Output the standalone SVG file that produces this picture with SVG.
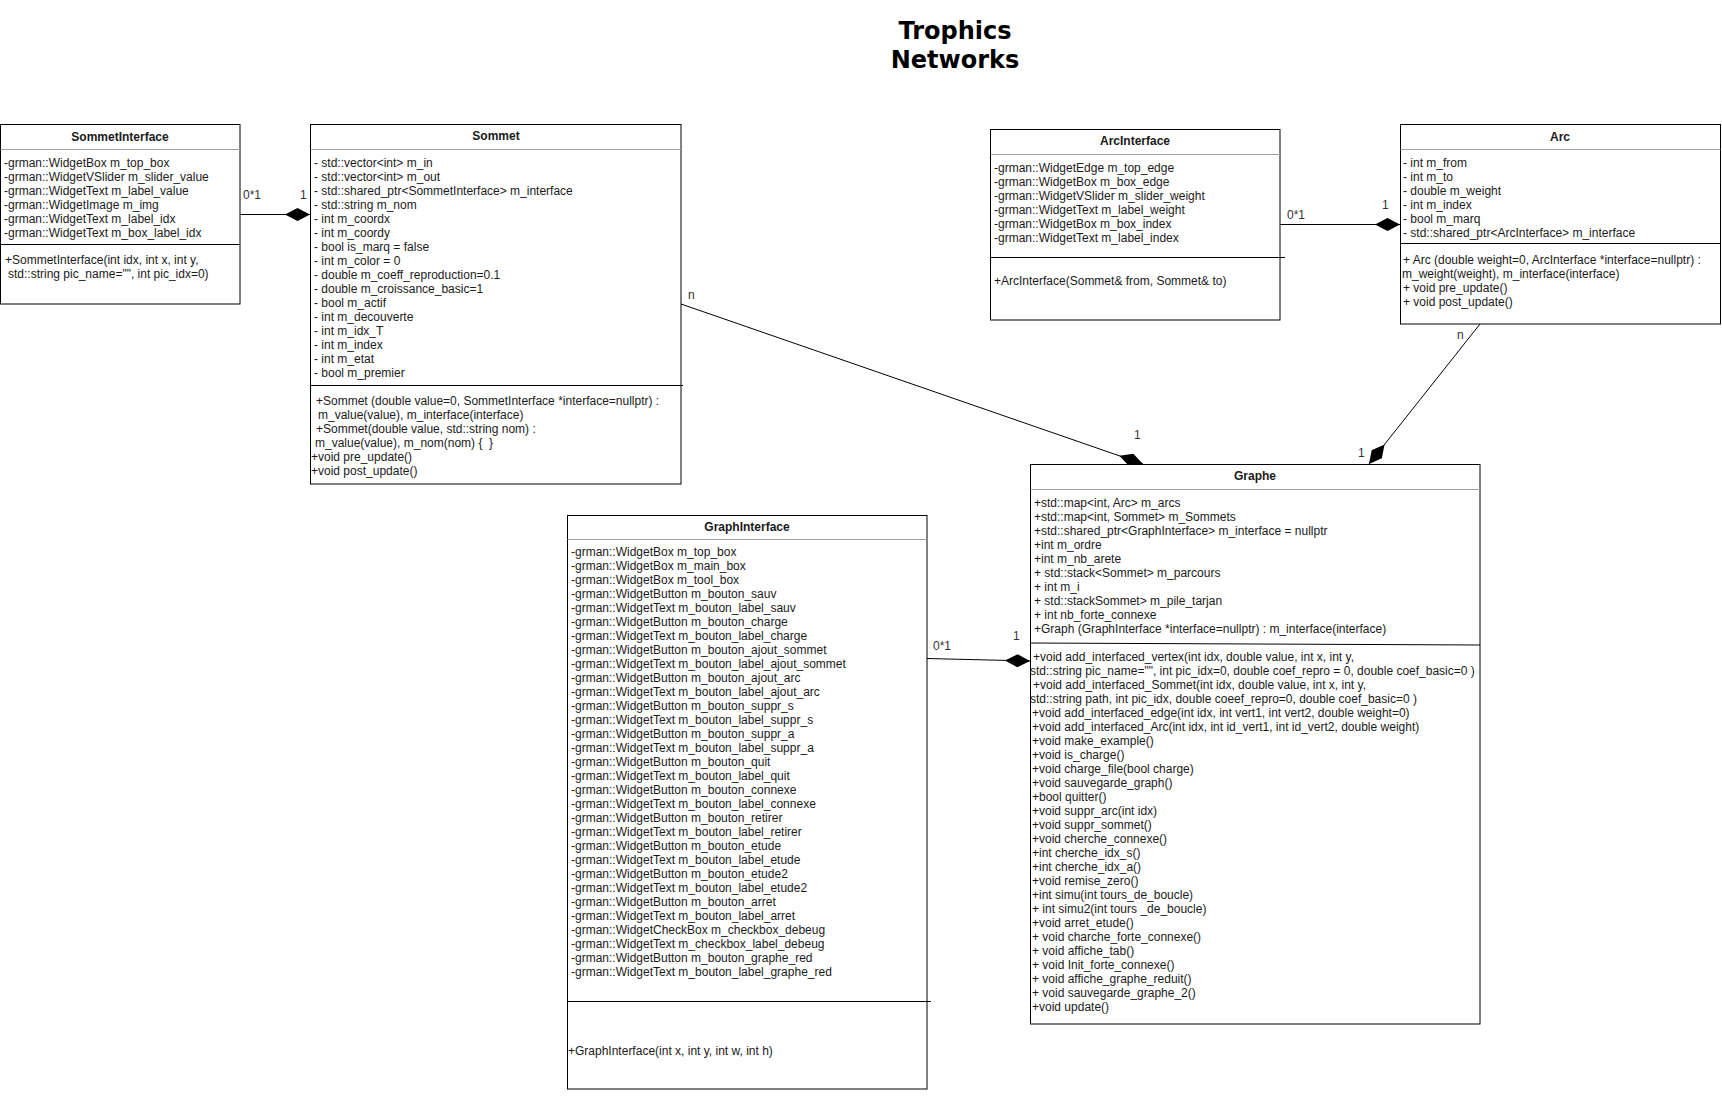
<svg xmlns="http://www.w3.org/2000/svg" width="1722" height="1098" viewBox="0 0 1722 1098">
  <style>
    .box { fill: #ffffff; stroke: #000000; stroke-width: 1; }
    .hdr { stroke: #a0a0a0; stroke-width: 1; }
    .sep { stroke: #000000; stroke-width: 1; }
    .edge { stroke: #000000; stroke-width: 1; fill: none; }
    text { font-family: "Liberation Sans", Arial, sans-serif; font-size: 12px; fill: #1a1a1a; }
    .title { text-anchor: middle; font-weight: bold; }
    .lbl { fill: #333333; }
    .main-title { font-family: "DejaVu Sans", Verdana, sans-serif; font-size: 24px; font-weight: bold; text-anchor: middle; fill: #000000; }
  </style>
  <defs>
    <marker id="diamond" viewBox="0 0 26 14" refX="25.5" refY="7" markerWidth="26" markerHeight="14" markerUnits="userSpaceOnUse" orient="auto">
      <path d="M0.5,7 L13,0.5 L25.5,7 L13,13.5 Z" fill="#000000"/>
    </marker>
  </defs>

  <rect width="1722" height="1098" fill="#ffffff"/>

  <g id="title">
    <text class="main-title" x="955" y="38.5">Trophics</text>
    <text class="main-title" x="955" y="68">Networks</text>
  </g>

  <!-- associations (composition diamonds on the owner side) -->
  <g id="connectors">
    <line class="edge" x1="240" y1="214.5" x2="310" y2="214.5" marker-end="url(#diamond)"/>
    <text class="lbl" x="243" y="199">0*1</text>
    <text class="lbl" x="300" y="199">1</text>

    <line class="edge" x1="1280" y1="224.5" x2="1400" y2="224.5" marker-end="url(#diamond)"/>
    <text class="lbl" x="1287" y="219">0*1</text>
    <text class="lbl" x="1382" y="209">1</text>

    <line class="edge" x1="681" y1="304" x2="1143" y2="464" marker-end="url(#diamond)"/>
    <text class="lbl" x="688" y="299">n</text>
    <text class="lbl" x="1134" y="439">1</text>

    <line class="edge" x1="1480" y1="324" x2="1369" y2="464" marker-end="url(#diamond)"/>
    <text class="lbl" x="1457" y="339">n</text>
    <text class="lbl" x="1358" y="457">1</text>

    <line class="edge" x1="927" y1="658.5" x2="1030" y2="661" marker-end="url(#diamond)"/>
    <text class="lbl" x="933" y="650">0*1</text>
    <text class="lbl" x="1013" y="640">1</text>
  </g>

  <g id="SommetInterface">
    <rect class="box" x="0.5" y="124.5" width="239.5" height="179.5"/>
    <line class="hdr" x1="0.5" y1="149.5" x2="240" y2="149.5"/>
    <text class="title" x="120" y="141">SommetInterface</text>
    <text x="4" y="167">-grman::WidgetBox m_top_box</text>
    <text x="4" y="181">-grman::WidgetVSlider m_slider_value</text>
    <text x="4" y="195">-grman::WidgetText m_label_value</text>
    <text x="4" y="209">-grman::WidgetImage m_img</text>
    <text x="4" y="223">-grman::WidgetText m_label_idx</text>
    <text x="4" y="237">-grman::WidgetText m_box_label_idx</text>
    <line class="sep" x1="0.5" y1="244.5" x2="240" y2="244.5"/>
    <text x="5" y="264">+SommetInterface(int idx, int x, int y,</text>
    <text x="8" y="278">std::string pic_name="", int pic_idx=0)</text>
  </g>

  <g id="Sommet">
    <rect class="box" x="310.5" y="124.5" width="370.5" height="359.5"/>
    <line class="hdr" x1="310.5" y1="149.5" x2="681" y2="149.5"/>
    <text class="title" x="496" y="140">Sommet</text>
    <text x="314" y="167">- std::vector&lt;int&gt; m_in</text>
    <text x="314" y="181">- std::vector&lt;int&gt; m_out</text>
    <text x="314" y="195">- std::shared_ptr&lt;SommetInterface&gt; m_interface</text>
    <text x="314" y="209">- std::string m_nom</text>
    <text x="314" y="223">- int m_coordx</text>
    <text x="314" y="237">- int m_coordy</text>
    <text x="314" y="251">- bool is_marq = false</text>
    <text x="314" y="265">- int m_color = 0</text>
    <text x="314" y="279">- double m_coeff_reproduction=0.1</text>
    <text x="314" y="293">- double m_croissance_basic=1</text>
    <text x="314" y="307">- bool m_actif</text>
    <text x="314" y="321">- int m_decouverte</text>
    <text x="314" y="335">- int m_idx_T</text>
    <text x="314" y="349">- int m_index</text>
    <text x="314" y="363">- int m_etat</text>
    <text x="314" y="377">- bool m_premier</text>
    <line class="sep" x1="310.5" y1="385.5" x2="683" y2="385.5"/>
    <text x="316" y="405">+Sommet (double value=0, SommetInterface *interface=nullptr) :</text>
    <text x="318" y="419">m_value(value), m_interface(interface)</text>
    <text x="316" y="433">+Sommet(double value, std::string nom) :</text>
    <text x="315" y="447" xml:space="preserve">m_value(value), m_nom(nom) {  }</text>
    <text x="311" y="461">+void pre_update()</text>
    <text x="311" y="475">+void post_update()</text>
  </g>

  <g id="ArcInterface">
    <rect class="box" x="990.5" y="129.5" width="289.5" height="190.5"/>
    <line class="hdr" x1="990.5" y1="154.5" x2="1280" y2="154.5"/>
    <text class="title" x="1135" y="145">ArcInterface</text>
    <text x="994" y="172">-grman::WidgetEdge m_top_edge</text>
    <text x="994" y="186">-grman::WidgetBox m_box_edge</text>
    <text x="994" y="200">-grman::WidgetVSlider m_slider_weight</text>
    <text x="994" y="214">-grman::WidgetText m_label_weight</text>
    <text x="994" y="228">-grman::WidgetBox m_box_index</text>
    <text x="994" y="242">-grman::WidgetText m_label_index</text>
    <line class="sep" x1="990.5" y1="257.5" x2="1285" y2="257.5"/>
    <text x="994" y="285">+ArcInterface(Sommet&amp; from, Sommet&amp; to)</text>
  </g>

  <g id="Arc">
    <rect class="box" x="1400.5" y="124.5" width="320" height="199.5"/>
    <line class="hdr" x1="1400.5" y1="149.5" x2="1720.5" y2="149.5"/>
    <text class="title" x="1560" y="141">Arc</text>
    <text x="1403" y="167">- int m_from</text>
    <text x="1403" y="181">- int m_to</text>
    <text x="1403" y="195">- double m_weight</text>
    <text x="1403" y="209">- int m_index</text>
    <text x="1403" y="223">- bool m_marq</text>
    <text x="1403" y="237">- std::shared_ptr&lt;ArcInterface&gt; m_interface</text>
    <line class="sep" x1="1400.5" y1="243.5" x2="1720.5" y2="243.5"/>
    <text x="1403" y="264">+ Arc (double weight=0, ArcInterface *interface=nullptr) :</text>
    <text x="1402" y="278">m_weight(weight), m_interface(interface)</text>
    <text x="1403" y="292">+ void pre_update()</text>
    <text x="1403" y="306">+ void post_update()</text>
  </g>

  <g id="GraphInterface">
    <rect class="box" x="567.5" y="515.5" width="359.5" height="573.5"/>
    <line class="hdr" x1="567.5" y1="539.5" x2="927" y2="539.5"/>
    <text class="title" x="747" y="531">GraphInterface</text>
    <text x="571" y="556">-grman::WidgetBox m_top_box</text>
    <text x="571" y="570">-grman::WidgetBox m_main_box</text>
    <text x="571" y="584">-grman::WidgetBox m_tool_box</text>
    <text x="571" y="598">-grman::WidgetButton m_bouton_sauv</text>
    <text x="571" y="612">-grman::WidgetText m_bouton_label_sauv</text>
    <text x="571" y="626">-grman::WidgetButton m_bouton_charge</text>
    <text x="571" y="640">-grman::WidgetText m_bouton_label_charge</text>
    <text x="571" y="654">-grman::WidgetButton m_bouton_ajout_sommet</text>
    <text x="571" y="668">-grman::WidgetText m_bouton_label_ajout_sommet</text>
    <text x="571" y="682">-grman::WidgetButton m_bouton_ajout_arc</text>
    <text x="571" y="696">-grman::WidgetText m_bouton_label_ajout_arc</text>
    <text x="571" y="710">-grman::WidgetButton m_bouton_suppr_s</text>
    <text x="571" y="724">-grman::WidgetText m_bouton_label_suppr_s</text>
    <text x="571" y="738">-grman::WidgetButton m_bouton_suppr_a</text>
    <text x="571" y="752">-grman::WidgetText m_bouton_label_suppr_a</text>
    <text x="571" y="766">-grman::WidgetButton m_bouton_quit</text>
    <text x="571" y="780">-grman::WidgetText m_bouton_label_quit</text>
    <text x="571" y="794">-grman::WidgetButton m_bouton_connexe</text>
    <text x="571" y="808">-grman::WidgetText m_bouton_label_connexe</text>
    <text x="571" y="822">-grman::WidgetButton m_bouton_retirer</text>
    <text x="571" y="836">-grman::WidgetText m_bouton_label_retirer</text>
    <text x="571" y="850">-grman::WidgetButton m_bouton_etude</text>
    <text x="571" y="864">-grman::WidgetText m_bouton_label_etude</text>
    <text x="571" y="878">-grman::WidgetButton m_bouton_etude2</text>
    <text x="571" y="892">-grman::WidgetText m_bouton_label_etude2</text>
    <text x="571" y="906">-grman::WidgetButton m_bouton_arret</text>
    <text x="571" y="920">-grman::WidgetText m_bouton_label_arret</text>
    <text x="571" y="934">-grman::WidgetCheckBox m_checkbox_debeug</text>
    <text x="571" y="948">-grman::WidgetText m_checkbox_label_debeug</text>
    <text x="571" y="962">-grman::WidgetButton m_bouton_graphe_red</text>
    <text x="571" y="976">-grman::WidgetText m_bouton_label_graphe_red</text>
    <line class="sep" x1="567.5" y1="1001.5" x2="931" y2="1001.5"/>
    <text x="568" y="1055">+GraphInterface(int x, int y, int w, int h)</text>
  </g>

  <g id="Graphe">
    <rect class="box" x="1030.5" y="464.5" width="449.5" height="559.5"/>
    <line class="hdr" x1="1030.5" y1="489.5" x2="1480" y2="489.5"/>
    <text class="title" x="1255" y="480">Graphe</text>
    <text x="1034" y="507">+std::map&lt;int, Arc&gt; m_arcs</text>
    <text x="1034" y="521">+std::map&lt;int, Sommet&gt; m_Sommets</text>
    <text x="1034" y="535">+std::shared_ptr&lt;GraphInterface&gt; m_interface = nullptr</text>
    <text x="1034" y="549">+int m_ordre</text>
    <text x="1034" y="563">+int m_nb_arete</text>
    <text x="1034" y="577">+ std::stack&lt;Sommet&gt; m_parcours</text>
    <text x="1034" y="591">+ int m_i</text>
    <text x="1034" y="605">+ std::stackSommet&gt; m_pile_tarjan</text>
    <text x="1034" y="619">+ int nb_forte_connexe</text>
    <text x="1034" y="633">+Graph (GraphInterface *interface=nullptr) : m_interface(interface)</text>
    <line class="sep" x1="1030.5" y1="643" x2="1480" y2="645"/>
    <text x="1033" y="661">+void add_interfaced_vertex(int idx, double value, int x, int y,</text>
    <text x="1030" y="675">std::string pic_name="", int pic_idx=0, double coef_repro = 0, double coef_basic=0 )</text>
    <text x="1033" y="689">+void add_interfaced_Sommet(int idx, double value, int x, int y,</text>
    <text x="1030" y="703">std::string path, int pic_idx, double coeef_repro=0, double coef_basic=0 )</text>
    <text x="1032" y="717">+void add_interfaced_edge(int idx, int vert1, int vert2, double weight=0)</text>
    <text x="1032" y="731">+void add_interfaced_Arc(int idx, int id_vert1, int id_vert2, double weight)</text>
    <text x="1032" y="745">+void make_example()</text>
    <text x="1032" y="759">+void is_charge()</text>
    <text x="1032" y="773">+void charge_file(bool charge)</text>
    <text x="1032" y="787">+void sauvegarde_graph()</text>
    <text x="1032" y="801">+bool quitter()</text>
    <text x="1032" y="815">+void suppr_arc(int idx)</text>
    <text x="1032" y="829">+void suppr_sommet()</text>
    <text x="1032" y="843">+void cherche_connexe()</text>
    <text x="1032" y="857">+int cherche_idx_s()</text>
    <text x="1032" y="871">+int cherche_idx_a()</text>
    <text x="1032" y="885">+void remise_zero()</text>
    <text x="1032" y="899">+int simu(int tours_de_boucle)</text>
    <text x="1032" y="913">+ int simu2(int tours _de_boucle)</text>
    <text x="1032" y="927">+void arret_etude()</text>
    <text x="1032" y="941">+ void charche_forte_connexe()</text>
    <text x="1032" y="955">+ void affiche_tab()</text>
    <text x="1032" y="969">+ void Init_forte_connexe()</text>
    <text x="1032" y="983">+ void affiche_graphe_reduit()</text>
    <text x="1032" y="997">+ void sauvegarde_graphe_2()</text>
    <text x="1032" y="1011">+void update()</text>
  </g>
</svg>
